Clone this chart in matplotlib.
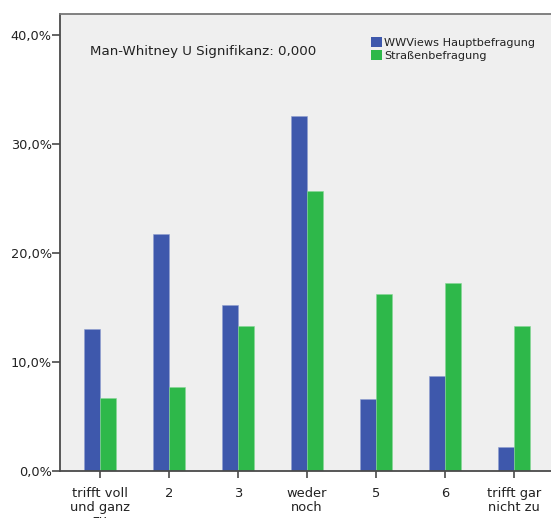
import matplotlib
matplotlib.use("Agg")
import matplotlib.pyplot as plt
import numpy as np
from matplotlib.patches import Patch

categories = ["trifft voll\nund ganz\nzu", "2", "3", "weder\nnoch", "5", "6", "trifft gar\nnicht zu"]
hauptbefragung = [13.06, 21.74, 15.24, 32.62, 6.57, 8.71, 2.21]
strassenbefragung = [6.69, 7.67, 13.33, 25.72, 16.22, 17.20, 13.33]
series_names = ["WWViews Hauptbefragung", "Straßenbefragung"]
y_ticks = [0, 10, 20, 30, 40]
y_tick_labels = ["0,0%", "10,0%", "20,0%", "30,0%", "40,0%"]
annotation = "Man-Whitney U Signifikanz: 0,000"

blue = "#3E58AC"
green = "#2EB84A"
frame = "#4a4a4a"

W, H = 551, 518
fig = plt.figure(figsize=(W / 100, H / 100), dpi=100)
ax = fig.add_axes([60 / W, 47.3 / H, (W - 60) / W, (470.7 - 13.5) / H])
ax.set_facecolor("#EFEFEF")

x = np.arange(len(categories))
bw = 0.232
ax.bar(x - bw / 2, hauptbefragung, bw, color=blue, edgecolor="#8f9fd0", linewidth=0.4, zorder=2)
ax.bar(x + bw / 2, strassenbefragung, bw, color=green, edgecolor="#86d896", linewidth=0.4, zorder=2)

ax.set_xlim(-0.58, 6.536)
ax.set_ylim(0, 42.0)
ax.set_yticks(y_ticks)
ax.set_yticklabels(y_tick_labels)
ax.set_xticks(x)
ax.set_xticklabels(categories, linespacing=1.02, va="top")

for side in ["left", "bottom", "top"]:
    ax.spines[side].set_color(frame)
    ax.spines[side].set_linewidth(1.3)
ax.spines["top"].set_color("#777777")
ax.spines["right"].set_visible(False)

ax.tick_params(axis="y", length=6, width=1.2, color=frame, labelsize=9.3, pad=0, labelcolor="#222222")
ax.tick_params(axis="x", length=5, width=1.2, color=frame, labelsize=9.4, pad=7, labelcolor="#222222")

fig.text(90.5 / W, 1 - 52 / H, annotation, fontsize=9.6, va="center", ha="left", color="#222222")

handles = [Patch(facecolor=blue, edgecolor="none"), Patch(facecolor=green, edgecolor="none")]
fig.legend(handles, series_names, loc="upper left", bbox_to_anchor=(371 / W, 1 - 37 / H),
           frameon=False, fontsize=8.1, handlelength=0.95, handleheight=0.95,
           handletextpad=0.2, labelspacing=0.2, borderpad=0, borderaxespad=0,
           labelcolor="#222222")

fig.savefig("out.png", dpi=100, facecolor="white")
